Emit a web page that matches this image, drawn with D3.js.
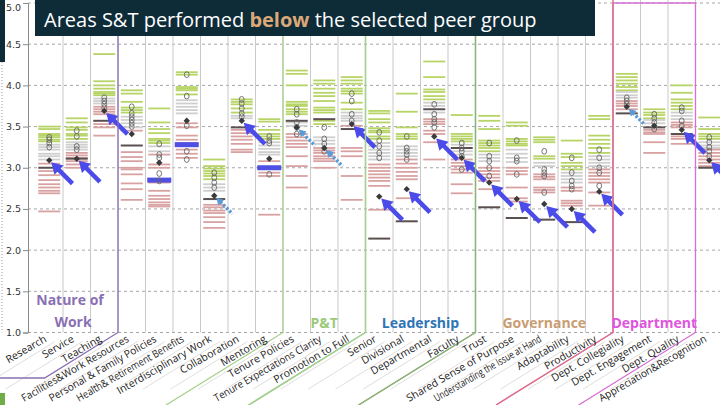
<!DOCTYPE html>
<html>
<head>
<meta charset="utf-8">
<script src="https://cdn.jsdelivr.net/npm/d3@7"></script>
<style>
  body { margin: 0; background: #fff; }
  svg { display: block; }
</style>
</head>
<body>
<svg width="720" height="405"></svg>
<script>
// ---- data ----
const categories = ['Research', 'Service', 'Teaching', 'Facilities&Work Resources',
  'Personal & Family Policies', 'Health& Retirement Benefits', 'Interdisciplinary Work',
  'Collaboration', 'Mentoring', 'Tenure Policies', 'Tenure Expectations Clarity',
  'Promotion to Full', 'Senior', 'Divisional', 'Departmental', 'Faculty', 'Trust',
  'Shared Sense of Purpose', 'Understanding the Issue at Hand', 'Adaptability',
  'Productivity', 'Dept. Collegiality', 'Dept. Engagement', 'Dept. Quality',
  'Appreciation&Recognition'];

// peer institutions above the peer group
const greenDashes = [
  [3.50, 3.47, 3.41, 3.39, 3.37, 3.34, 3.32],
  [3.60, 3.55, 3.49, 3.46, 3.41, 3.39, 3.35],
  [4.38, 4.05, 4.00, 3.96, 3.92, 3.90, 3.88],
  [3.94, 3.90, 3.80, 3.73, 3.70, 3.67],
  [3.72, 3.55, 3.47, 3.42, 3.35, 3.33, 3.30],
  [4.16, 4.13, 3.98, 3.96, 3.94, 3.89],
  [3.10, 3.02, 2.99, 2.96, 2.93, 2.90, 2.86],
  [3.83, 3.80, 3.77, 3.72, 3.67],
  [3.59, 3.56, 3.46, 3.41, 3.38, 3.35],
  [4.18, 4.14, 4.00, 3.80, 3.77, 3.75, 3.71, 3.68, 3.65],
  [4.06, 4.02, 3.96, 3.91, 3.87, 3.81, 3.73, 3.70, 3.67, 3.57, 3.53],
  [4.10, 4.06, 4.02, 3.96, 3.93, 3.90, 3.79, 3.71],
  [3.69, 3.66, 3.59, 3.55, 3.48, 3.45, 3.43, 3.38, 3.35],
  [3.90, 3.68, 3.49, 3.41, 3.38, 3.35],
  [4.29, 4.10, 3.95, 3.92, 3.87, 3.83],
  [3.64, 3.41, 3.38, 3.35, 3.32],
  [3.63, 3.57, 3.47, 3.33, 3.30, 3.27, 3.24, 3.20],
  [3.55, 3.51, 3.35, 3.32, 3.29, 3.27],
  [3.37, 3.34, 3.31, 3.14, 3.11],
  [3.33, 3.17, 3.13, 3.06, 3.02, 2.98],
  [3.63, 3.59, 3.39, 3.34, 3.29, 3.24, 3.18],
  [4.14, 4.10, 4.06, 4.02, 3.98, 3.94],
  [3.71, 3.67, 3.64, 3.60],
  [4.00, 3.91, 3.83, 3.79, 3.75, 3.71],
  [3.61, 3.47, 3.41, 3.38, 3.35]
];
// peer institutions within the peer group band
const greyDashes = [
  [3.28, 3.25, 3.22, 3.17, 3.14, 3.10],
  [3.31, 3.28, 3.25, 3.22],
  [3.84, 3.81, 3.78],
  [3.62, 3.58, 3.54, 3.49],
  [3.26, 3.20],
  [3.82, 3.78, 3.74, 3.70, 3.66],
  [2.80, 2.76, 2.72],
  [3.63, 3.60],
  [3.31, 3.27, 3.23, 3.19, 3.16],
  [3.55, 3.51],
  [3.37, 3.33, 3.29],
  [3.67, 3.63, 3.60, 3.57],
  [3.30, 3.26, 3.22, 3.18, 3.14, 3.10],
  [3.26, 3.22, 3.18, 3.14],
  [3.79, 3.75, 3.67],
  [3.28, 3.20, 3.16],
  [3.16, 3.12, 3.08],
  [3.22, 3.17, 3.12, 3.07],
  [3.06, 3.02],
  [2.94, 2.90, 2.86, 2.82],
  [3.14, 3.10, 3.06, 3.02],
  [3.92, 3.88, 3.85],
  [3.58, 3.54],
  [3.67, 3.63, 3.59],
  [3.31, 3.27, 3.24]
];
// peer institutions below the peer group
const redDashes = [
  [3.05, 2.96, 2.91, 2.85, 2.80, 2.76, 2.72, 2.69, 2.47],
  [3.18, 3.15, 3.12, 3.08, 3.04, 3.00],
  [3.74, 3.71, 3.68, 3.65, 3.53, 3.49, 3.39],
  [3.45, 3.19, 3.13, 3.08, 3.00, 2.98, 2.92, 2.81, 2.74, 2.61],
  [3.16, 3.04, 3.00, 2.82, 2.72, 2.66, 2.62, 2.58, 2.55, 2.53],
  [3.54, 3.49, 3.39, 3.34, 3.30, 3.22, 3.17, 3.12],
  [2.55, 2.52, 2.48, 2.45, 2.40, 2.34, 2.27],
  [3.46, 3.42, 3.38, 3.34, 3.29, 3.22, 3.19],
  [3.08, 2.94, 2.90, 2.43],
  [3.41, 3.37, 3.33, 3.29, 3.25, 3.14, 3.02, 2.90, 2.76],
  [3.24, 3.21, 3.18, 3.14, 3.11, 3.08, 3.00],
  [3.51, 3.24, 3.20, 3.14, 2.90, 2.61],
  [3.04, 3.00, 2.96, 2.92, 2.88, 2.84, 2.78, 2.49],
  [3.10, 3.05, 3.00, 2.95, 2.90, 2.86, 2.63],
  [3.59, 3.56, 3.53, 3.45, 3.41, 3.31, 3.10],
  [3.10, 3.06, 3.02, 2.98, 2.94, 2.80, 2.69],
  [3.00, 2.96, 2.92, 2.88, 2.84, 2.74],
  [3.00, 2.96, 2.92, 2.76, 2.63, 2.59],
  [2.92, 2.89, 2.86, 2.76, 2.73, 2.70],
  [2.76, 2.72, 2.60, 2.57, 2.54],
  [2.98, 2.94, 2.90, 2.86, 2.82, 2.70, 2.54],
  [3.81, 3.78, 3.75, 3.71],
  [3.46, 3.43, 3.41, 3.31, 3.18],
  [3.55, 3.52, 3.49, 3.38, 3.35, 3.29],
  [3.22, 3.18, 3.14, 3.10, 3.06, 3.02]
];
// aspirational / reference institutions (dark lines)
const darkDashes = [
  [3.00], [3.11], [3.57], [3.27], [], [], [2.62], [3.49], [], [3.57], [3.59], [3.47],
  [2.14], [2.35], [3.71], [3.24], [2.52], [2.39], [2.37], [2.34], [], [3.66], [3.49],
  [3.41], [3.00]
];
// selected peer group members
const peerCircles = [
  [3.37, 3.34, 3.30, 3.25],
  [3.45, 3.38, 3.26, 3.22],
  [3.85, 3.81, 3.77, 3.73],
  [3.74, 3.66, 3.62, 3.58, 3.54, 3.50],
  [3.29, 3.16, 3.12, 2.93, 2.84],
  [4.13, 3.87, 3.51, 3.20, 3.10],
  [2.94, 2.88, 2.82, 2.76],
  [3.83, 3.78, 3.72, 3.66, 3.62],
  [3.38, 3.33, 3.30, 2.92],
  [3.71, 3.65, 3.55, 3.49, 3.41],
  [3.49, 3.35, 3.29, 3.20],
  [3.90, 3.81, 3.65, 3.57],
  [3.43, 3.33, 3.26, 3.18, 3.12],
  [3.38, 3.24, 3.20, 3.16, 3.10],
  [3.77, 3.65, 3.59, 3.55, 3.49],
  [3.30, 3.24, 3.20, 3.14, 2.98],
  [3.30, 3.14, 3.08, 3.00, 2.90],
  [3.33, 3.12, 3.08, 2.92],
  [3.20, 2.98, 2.94, 2.90, 2.70],
  [3.12, 2.94, 2.84, 2.78, 2.74],
  [3.22, 3.12, 3.00, 2.94, 2.78],
  [3.85, 3.81, 3.77],
  [3.65, 3.60, 3.55, 3.47],
  [3.73, 3.69, 3.57, 3.51],
  [3.37, 3.31, 3.25, 3.20, 3.14]
];
// S&T score (diamond)
const stScore = [3.09, 3.11, 3.69, 3.41, 3.06, 3.57, 2.66, 3.57, 3.11, 3.49, 3.24, 3.53,
  2.65, 2.74, 3.38, 3.12, 2.82, 2.62, 2.56, 2.50, 2.71, 3.74, 3.51, 3.46, 3.09];
// '' = no arrow
const arrowKind = ['solid', 'solid', 'solid', '', '', '', 'dotted', 'solid', '', 'dotted',
  'dotted', 'solid', 'solid', 'solid', 'solid', 'solid', 'solid', 'solid', 'solid', 'solid',
  'solid', 'dotted', '', 'solid', 'solid'];
// peer group mean bar, where shown
const blueBar = [null, null, null, null, 2.85, 3.28, null, null, 3.00, null, null, null,
  null, null, null, null, null, null, null, null, null, null, null, null, null];

const groupNames = ['Nature of Work', 'P&T', 'Leadership', 'Governance', 'Department'];
const groupFirst = ['Research', 'Tenure Policies', 'Senior', 'Trust', 'Dept. Collegiality'];
const groupLast = ['Teaching', 'Promotion to Full', 'Faculty', 'Productivity', 'Dept. Quality'];
const yTicks = [1.0, 1.5, 2.0, 2.5, 3.0, 3.5, 4.0, 4.5, 5.0];

// ---- styles ----
const groupColor = { 'Nature of Work': '#8a6fb3', 'P&T': '#9cc97a', 'Leadership': '#2e75b6',
  'Governance': '#c99c72', 'Department': '#e055de' };
const boxColor = { 'Nature of Work': '#8a6fb3', 'P&T': '#a9d18e', 'Leadership': '#77bf77',
  'Governance': '#e0707c', 'Department': '#d76fd6' };
const dashColor = { green: '#b7d466', grey: '#cfcfcf', red: '#d9a2a2', dark: '#5b5050' };

const svg = d3.select('svg');
const x = d3.scaleBand().domain(categories).range([35.5, 723]);
const y = d3.scaleLinear().domain([1, 5]).range([332.5, 3]);
const cx = c => x(c) + x.bandwidth() / 2;
const base = y(1);
const slope = 0.62;

// gridlines
svg.append('g')
  .selectAll('line')
  .data(yTicks)
  .join('line')
  .attr('x1', 28).attr('x2', 720)
  .attr('y1', d => y(d)).attr('y2', d => y(d))
  .attr('stroke', '#a6a6a6')
  .attr('stroke-dasharray', '3,3');

// column separators (and their skewed continuation under the labels)
let bounds = categories.map(c => x(c) + x.bandwidth()).slice(0, -1);
svg.append('g')
  .selectAll('line')
  .data(bounds)
  .join('line')
  .attr('x1', d => d).attr('x2', d => d)
  .attr('y1', 0).attr('y2', base)
  .attr('stroke', '#c9c9c9');
svg.append('g')
  .selectAll('line')
  .data(bounds)
  .join('line')
  .attr('x1', d => d - 8).attr('y1', base + 8 * slope + 4)
  .attr('x2', d => d - 85).attr('y2', base + 85 * slope + 4)
  .attr('stroke', '#d6d6d6').attr('stroke-width', 0.8);

// dashes
let dashes = [];
categories.forEach((c, i) => {
  greenDashes[i].forEach(v => dashes.push({ c, v, k: 'green' }));
  greyDashes[i].forEach(v => dashes.push({ c, v, k: 'grey' }));
  redDashes[i].forEach(v => dashes.push({ c, v, k: 'red' }));
  darkDashes[i].forEach(v => dashes.push({ c, v, k: 'dark' }));
});
svg.append('g')
  .selectAll('line')
  .data(dashes)
  .join('line')
  .attr('x1', d => cx(d.c) - 11).attr('x2', d => cx(d.c) + 11)
  .attr('y1', d => y(d.v)).attr('y2', d => y(d.v))
  .attr('stroke', d => dashColor[d.k])
  .attr('stroke-width', d => d.k == 'dark' ? 2 : 1.8);

// blue mean bars
svg.append('g')
  .selectAll('rect')
  .data(categories.map((c, i) => ({ c, v: blueBar[i] })).filter(d => d.v != null))
  .join('rect')
  .attr('x', d => cx(d.c) - 12).attr('width', 24)
  .attr('y', d => y(d.v) - 2.5).attr('height', 5)
  .attr('fill', '#4f4fe3');

// peer circles
let circ = [];
categories.forEach((c, i) => peerCircles[i].forEach(v => circ.push({ c, v })));
svg.append('g')
  .selectAll('ellipse')
  .data(circ)
  .join('ellipse')
  .attr('cx', d => cx(d.c)).attr('cy', d => y(d.v))
  .attr('rx', 2.4).attr('ry', 2.9)
  .attr('fill', 'none')
  .attr('stroke', '#666').attr('stroke-width', 0.9);

// S&T diamonds
svg.append('g')
  .selectAll('path')
  .data(categories.map((c, i) => ({ c, v: stScore[i] })))
  .join('path')
  .attr('d', d3.symbol(d3.symbolDiamond2, 26))
  .attr('transform', d => `translate(${cx(d.c)},${y(d.v)})`)
  .attr('fill', '#3a3a3a');

// arrows pointing at S&T score
const r2 = Math.SQRT1_2;
function arrow(g, tipX, tipY, len, headLen, headW) {
  let bx = tipX + headLen * r2, by = tipY + headLen * r2;
  g.append('line')
    .attr('x1', bx - 1).attr('y1', by - 1)
    .attr('x2', tipX + len * r2).attr('y2', tipY + len * r2);
  g.append('path')
    .attr('d', `M${tipX},${tipY} L${bx - headW * r2},${by + headW * r2} L${bx + headW * r2},${by - headW * r2} Z`)
    .attr('stroke', 'none');
}
categories.forEach((c, i) => {
  if (!arrowKind[i]) return;
  let g = svg.append('g');
  if (arrowKind[i] == 'solid') {
    g.attr('stroke', '#4b4bea').attr('fill', '#4b4bea').attr('stroke-width', 4.5);
    arrow(g, cx(c) + 2, y(stScore[i]) + 2, 30, 11, 6.5);
  } else {
    g.attr('stroke', '#5b9bd5').attr('fill', '#5b9bd5').attr('stroke-width', 3.5)
      .attr('stroke-dasharray', '2.5,1.8');
    arrow(g, cx(c) + 2, y(stScore[i]) + 2, 23, 7, 4);
  }
});

// group boxes (drawn last-to-first so a group's own colour wins on shared edges)
groupNames.slice().reverse().forEach(name => {
  let gi = groupNames.indexOf(name);
  let left = x(groupFirst[gi]), right = x(groupLast[gi]) + x.bandwidth();
  let col = boxColor[name];
  let top = name == 'Department' ? 3 : 0;
  let g = svg.append('g').attr('stroke', col).attr('fill', 'none').attr('stroke-width', 1.3);
  if (gi == 0) {
    let dx = (378 - base) / slope;
    g.append('path').attr('d', `M${right},${top} V${base} L${right - dx},378 H0`);
  } else {
    let dx = (405 - base) / slope;
    g.append('path').attr('d', `M${left - dx},405 L${left},${base} V${top}` +
      (name == 'Department' ? ` H${right}` : ` M${right},${top}`) +
      ` V${base} L${right - dx},405`);
  }
});

// left axis
let axis = svg.append('g')
  .attr('transform', 'translate(28,0)')
  .call(d3.axisLeft(y).tickValues(yTicks).tickFormat(d3.format('.1f')).tickSize(5).tickPadding(2));
axis.select('.domain').attr('stroke', '#8a8a8a');
axis.selectAll('.tick line').attr('stroke', '#8a8a8a');
axis.selectAll('text').attr('font-family', 'DejaVu Sans').attr('font-size', 9.5).attr('fill', '#333');
axis.selectAll('.tick').filter(d => d == 5).select('text').attr('dy', '0.75em');
svg.append('line')
  .attr('x1', 2).attr('x2', 2).attr('y1', 62).attr('y2', base)
  .attr('stroke', '#999').attr('stroke-dasharray', '1,2');

// category labels
svg.append('g')
  .selectAll('text')
  .data(categories)
  .join('text')
  .attr('transform', d => `translate(${cx(d) - 2},341) rotate(-30)`)
  .attr('text-anchor', 'end')
  .attr('font-family', 'Open Sans')
  .attr('font-size', 10.5)
  .attr('fill', '#222')
  .text(d => d)
  .each(function () {
    if (this.getComputedTextLength() > 122) {
      d3.select(this).attr('textLength', 122).attr('lengthAdjust', 'spacingAndGlyphs');
    }
  });

// group titles
groupNames.forEach((name, gi) => {
  let left = gi == 0 ? 28 : x(groupFirst[gi]);
  let right = x(groupLast[gi]) + x.bandwidth();
  let t = svg.append('text')
    .attr('text-anchor', 'middle')
    .attr('font-family', 'Open Sans')
    .attr('font-weight', 'bold')
    .attr('font-size', 14)
    .attr('fill', groupColor[name]);
  if (gi == 0) {
    t.append('tspan').attr('x', (left + right) / 2 - 3).attr('y', 305).text('Nature of');
    t.append('tspan').attr('x', (left + right) / 2).attr('y', 327).text('Work');
  } else {
    t.attr('x', (left + right) / 2).attr('y', 328).text(name);
  }
});

// slide decorations and title
svg.append('rect').attr('x', 0).attr('y', 0).attr('width', 5).attr('height', 62).attr('fill', '#0e2b38');
svg.append('rect').attr('x', 0).attr('y', 393).attr('width', 5).attr('height', 12).attr('fill', '#70ad47');
svg.append('rect').attr('x', 35).attr('y', 0).attr('width', 560).attr('height', 36).attr('fill', '#0e2b38');
let title = svg.append('text')
  .attr('x', 44).attr('y', 27)
  .attr('font-family', 'Open Sans')
  .attr('font-size', 20)
  .attr('fill', '#fff');
title.append('tspan').text('Areas S&T performed ');
title.append('tspan').attr('fill', '#dca878').attr('font-weight', 'bold').text('below');
title.append('tspan').text(' the selected peer group');
</script>
</body>
</html>
